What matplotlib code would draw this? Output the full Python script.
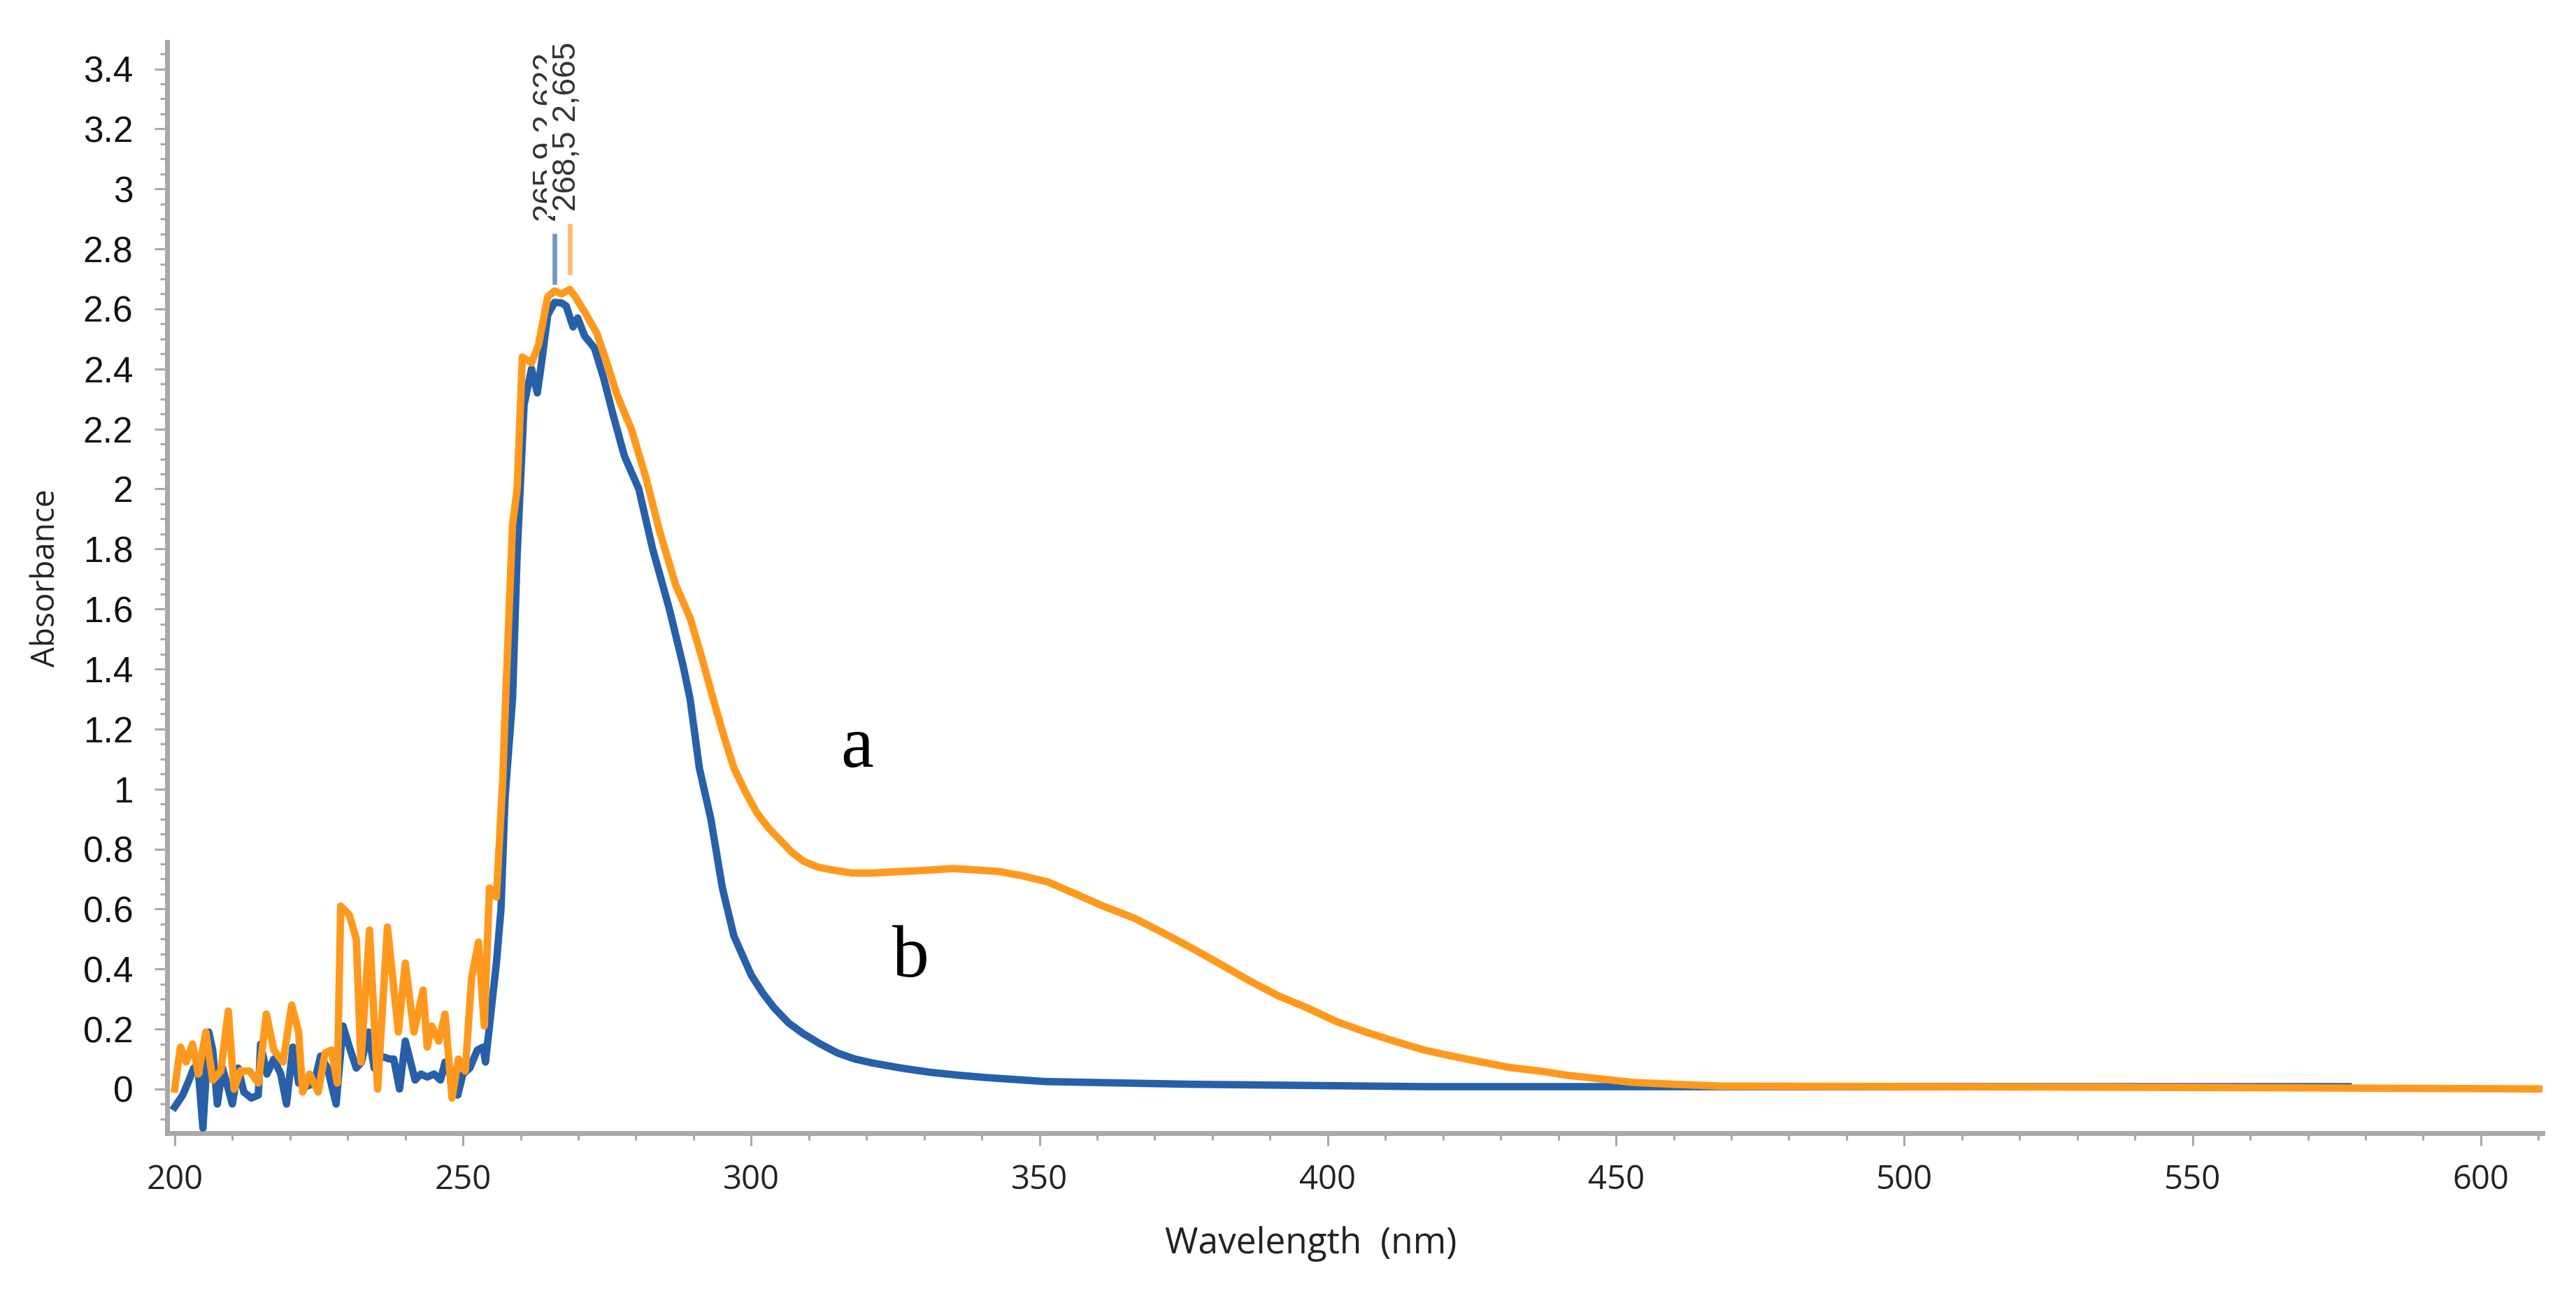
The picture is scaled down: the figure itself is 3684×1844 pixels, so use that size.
import matplotlib
matplotlib.use("Agg")
import matplotlib.pyplot as plt
from matplotlib.ticker import MultipleLocator, FuncFormatter

# spectrum a (orange)
wl_a = [200, 201, 202, 203.1, 204.1, 205.4, 206.6, 208, 209.3, 210.3, 211.4, 213,
        214.5, 215.9, 217.2, 218.8, 220.3, 221.5, 222.2, 223.4, 224.9, 226.1, 227.2,
        228.2, 228.8, 230.3, 231.5, 232.3, 233.8, 235.2, 236.9, 238.8, 240.0, 241.5,
        243.1, 243.8, 244.6, 245.8, 246.9, 248.1, 249.2, 250.4, 251.5, 252.7, 253.7,
        254.6, 255.8, 256.9, 257.4, 258.6, 259.4, 260.3, 261.9, 263.1, 264.7, 265.9,
        267.1, 268.5, 269.5, 271.1, 273.2, 274.8, 276.8, 279.2, 281.7, 284.1, 286.9,
        289.4, 291.4, 293.4, 295.2, 297.0, 299.0, 301.0, 303.0, 305.0, 307.0, 309.0,
        311.5, 314.1, 317.5, 321.1, 326.0, 331.2, 335.0, 339.2, 343.0, 347.2, 351.5,
        356.3, 361.0, 366.4, 371.5, 376.4, 381.5, 386.5, 391.5, 396.5, 401.5, 406.6,
        411.5, 416.7, 421.5, 426.7, 431.5, 436.8, 441.5, 446.8, 453, 460, 468, 556, 615]
abs_a = [0.00, 0.14, 0.09, 0.15, 0.05, 0.19, 0.03, 0.06, 0.26, 0.00, 0.06, 0.06,
         0.02, 0.25, 0.13, 0.09, 0.28, 0.19, -0.01, 0.05, -0.01, 0.12, 0.13,
         0.02, 0.61, 0.58, 0.50, 0.09, 0.53, 0.00, 0.54, 0.19, 0.42, 0.19,
         0.33, 0.14, 0.21, 0.16, 0.25, -0.03, 0.10, 0.06, 0.37, 0.49, 0.21,
         0.67, 0.64, 1.03, 1.30, 1.88, 2.00, 2.44, 2.42, 2.48, 2.64, 2.66,
         2.65, 2.665, 2.64, 2.59, 2.52, 2.43, 2.31, 2.20, 2.04, 1.86, 1.68,
         1.57, 1.44, 1.30, 1.18, 1.07, 0.99, 0.92, 0.87, 0.83, 0.79, 0.76,
         0.74, 0.73, 0.72, 0.72, 0.725, 0.73, 0.735, 0.73, 0.725, 0.71, 0.69,
         0.65, 0.61, 0.57, 0.52, 0.47, 0.415, 0.36, 0.31, 0.27, 0.225, 0.19,
         0.16, 0.13, 0.11, 0.09, 0.072, 0.06, 0.046, 0.035, 0.022, 0.016, 0.01, 0.005, 0.0]

# spectrum b (blue)
wl_b = [200, 201.4, 202.5, 203.3, 204.1, 204.9, 205.9, 206.6, 207.4, 208.3, 209.3,
        210.0, 211.0, 212.0, 213.3, 214.5, 214.9, 216.0, 217.2, 218.4, 219.4, 220.5,
        221.5, 223.0, 224.2, 225.3, 226.5, 228.0, 229.2, 230.3, 231.5, 232.4, 233.6,
        234.6, 235.7, 237.3, 238.0, 239.0, 240.0, 241.7, 242.7, 243.8, 245.0, 246.1,
        246.9, 248.1, 249.1, 250.0, 251.2, 252.5, 253.5, 253.9, 254.6, 255.8, 256.6,
        257.3, 258.6, 259.4, 260.6, 261.9, 262.9, 263.7, 264.7, 265.9, 267.1, 267.9,
        269.1, 269.9, 271.1, 272.8, 274.4, 276.0, 278.0, 280.5, 282.9, 285.8, 288.2,
        289.4, 291, 293, 295, 297, 300, 302, 304, 306.5, 309, 312, 315, 318, 321,
        326, 331, 336, 341, 351, 376, 417, 577]
abs_b = [-0.06, -0.02, 0.03, 0.07, 0.06, -0.13, 0.19, 0.13, -0.05, 0.07, 0.00,
         -0.05, 0.07, -0.01, -0.03, -0.02, 0.15, 0.05, 0.10, 0.05, -0.05, 0.14,
         0.02, 0.01, 0.02, 0.11, 0.07, -0.05, 0.21, 0.14, 0.07, 0.09, 0.19,
         0.07, 0.11, 0.10, 0.10, 0.00, 0.16, 0.03, 0.05, 0.04, 0.05, 0.03,
         0.09, 0.03, -0.02, 0.05, 0.07, 0.13, 0.14, 0.09, 0.21, 0.42, 0.60,
         0.97, 1.30, 1.78, 2.28, 2.40, 2.32, 2.43, 2.58, 2.622, 2.62, 2.61,
         2.54, 2.57, 2.51, 2.47, 2.37, 2.25, 2.11, 2.00, 1.80, 1.60, 1.41,
         1.30, 1.07, 0.90, 0.67, 0.51, 0.38, 0.32, 0.27, 0.22, 0.185, 0.15, 0.12, 0.10, 0.087,
         0.07, 0.056, 0.046, 0.038, 0.025, 0.016, 0.008, 0.008]

peak_b = (265.9, 2.622)
peak_a = (268.5, 2.665)
peak_b_text = "265,9 2,622"
peak_a_text = "268,5 2,665"

xticks = [200, 250, 300, 350, 400, 450, 500, 550, 600]
yticks = [0, 0.2, 0.4, 0.6, 0.8, 1, 1.2, 1.4, 1.6, 1.8, 2, 2.2, 2.4, 2.6, 2.8, 3, 3.2, 3.4]

blue = "#2760a8"
orange = "#ff991e"
grey = "#a8a8a8"
narrow = ["Liberation Sans Narrow", "Liberation Sans", "DejaVu Sans"]
sans = ["Open Sans", "DejaVu Sans"]
serif = ["Liberation Serif", "DejaVu Serif"]

fig = plt.figure(figsize=(18.42, 9.22), dpi=200)
ax = fig.add_axes([0.0649, 0.1209, 0.9221, 0.8466])

ax.plot(wl_b, abs_b, color=blue, lw=3.8, solid_joinstyle="round", zorder=3)
ax.plot(wl_a, abs_a, color=orange, lw=3.8, solid_joinstyle="round", zorder=4)

# peak markers
ax.vlines(peak_b[0], peak_b[1] + 0.06, peak_b[1] + 0.23, color=blue, alpha=0.65, lw=2.4, zorder=5)
ax.vlines(peak_a[0], peak_a[1] + 0.05, peak_a[1] + 0.22, color=orange, alpha=0.65, lw=2.4, zorder=5)
ax.text(peak_b[0] - 1.2, peak_b[1] + 0.27, peak_b_text, rotation=90, ha="center", va="bottom",
        fontsize=16.5, family=narrow, color="#333333", zorder=6, clip_on=False)
ax.text(peak_a[0] - 0.4, peak_a[1] + 0.26, peak_a_text, rotation=90, ha="center", va="bottom",
        fontsize=16.5, family=narrow, color="#333333", zorder=7, clip_on=False,
        bbox=dict(boxstyle="square,pad=0.15", fc="white", ec="none"))

ax.text(318.3, 1.075, "a", fontsize=38, family=serif, ha="center", va="baseline")
ax.text(327.7, 0.374, "b", fontsize=38, family=serif, ha="center", va="baseline")

ax.set_xlim(198.7, 610.7)
ax.set_ylim(-0.147, 3.49)
ax.set_xticks(xticks)
ax.set_yticks(yticks)
ax.xaxis.set_minor_locator(MultipleLocator(10))
ax.yaxis.set_minor_locator(MultipleLocator(0.05))
ax.yaxis.set_major_formatter(FuncFormatter(lambda v, p: "%g" % v))

for s in ["top", "right"]:
    ax.spines[s].set_visible(False)
for s in ["left", "bottom"]:
    ax.spines[s].set_color(grey)
    ax.spines[s].set_linewidth(2.5)

ax.tick_params(axis="both", which="major", direction="out", length=6.5, width=1.1, color=grey)
ax.tick_params(axis="both", which="minor", direction="out", length=3.6, width=1.1, color=grey)
ax.tick_params(axis="x", which="major", pad=9, labelsize=17, labelcolor="#222222")
ax.tick_params(axis="y", which="major", pad=11, labelsize=18.5, labelcolor="#111111")
for lab in ax.get_xticklabels():
    lab.set_family(sans)
for lab in ax.get_yticklabels():
    lab.set_family(narrow)

ax.set_xlabel("Wavelength  (nm)", fontsize=18.5, family=sans, color="#222222", va="center")
ax.xaxis.set_label_coords(0.4816, -0.1012)
ax.set_ylabel("Absorbance", fontsize=16.5, family=sans, color="#222222", va="center")
ax.yaxis.set_label_coords(-0.0509, 0.5086)

fig.savefig("out.png", dpi=200)
